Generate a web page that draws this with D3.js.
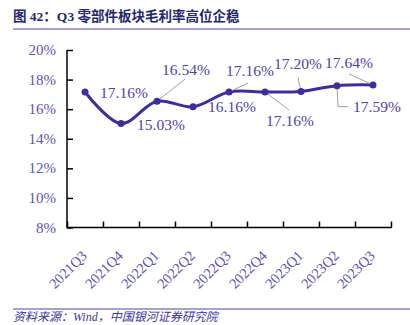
<!DOCTYPE html>
<html><head><meta charset="utf-8">
<script src="https://cdn.jsdelivr.net/npm/d3@7"></script>
<style>
html,body{margin:0;padding:0;background:#fff;}
svg{display:block;}
</style></head>
<body>
<svg id="c" width="410" height="325"></svg>
<script>
const categories = ["2021Q3","2021Q4","2022Q1","2022Q2","2022Q3","2022Q4","2023Q1","2023Q2","2023Q3"];
const margins = [17.16, 15.03, 16.54, 16.16, 17.16, 17.16, 17.20, 17.59, 17.64];
const yTicks = [8, 10, 12, 14, 16, 18, 20];
const titleText = "图 42：Q3 零部件板块毛利率高位企稳";
const sourceText = "资料来源：Wind，中国银河证券研究院";

// label layout: text offset [dx, dy] from point, leader polyline (relative) or null
const labelLayout = [
  {t:[15,6], l:null},
  {t:[16,6], l:null},
  {t:[5,-26], l:[[0,0],[28,-22]]},
  {t:[15,5], l:null},
  {t:[-3,-16], l:[[0,0],[19,-9]]},
  {t:[1,34], l:[[0,0],[24,18]]},
  {t:[-27,-22], l:[[0,0],[-3,-14]]},
  {t:[16,26], l:[[0,0],[1,21],[11,21]]},
  {t:[-48,-17], l:[[0,0],[-24,-11]]}
];

const svg = d3.select("#c");
const serif = "'Liberation Serif','Times New Roman','Noto Sans CJK SC',serif";
const textColor = "#4b44a8";

// title
svg.append("text").attr("x",13).attr("y",21)
  .attr("font-family",serif).attr("font-weight","bold").attr("font-size",13.5)
  .attr("fill","#1d2a6c").text(titleText);
svg.append("line").attr("x1",13).attr("x2",410).attr("y1",29).attr("y2",29)
  .attr("stroke","#8a80c6").attr("stroke-width",1.5);

// source
svg.append("line").attr("x1",13).attr("x2",410).attr("y1",309).attr("y2",309)
  .attr("stroke","#8a80c6").attr("stroke-width",1.5);
svg.append("text").attr("x",13).attr("y",321)
  .attr("font-family",serif).attr("font-style","italic").attr("font-size",12)
  .attr("fill","#3a35a0").text(sourceText);

const x = d3.scaleBand().domain(categories).range([67,391]).padding(0);
const y = d3.scaleLinear().domain([8,20]).range([227.5,50]);

// y axis
const yAxis = svg.append("g").attr("transform","translate(67,0)")
  .call(d3.axisRight(y).tickValues(yTicks).tickSize(6).tickFormat(""));
yAxis.select(".domain").remove();
yAxis.selectAll(".tick line").attr("stroke","#000").attr("stroke-width",1.5);
svg.append("line").attr("x1",67).attr("x2",67).attr("y1",y(20)).attr("y2",y(8))
  .attr("stroke","#000").attr("stroke-width",1.5);
svg.selectAll(".ylab").data(yTicks).join("text").attr("class","ylab")
  .attr("x",56).attr("y",d=>y(d)+5).attr("text-anchor","end")
  .attr("font-family",serif).attr("font-size",15).attr("fill","#5b53b6")
  .text(d=>d+"%");

// x axis
const xAxis = svg.append("g").attr("transform",`translate(0,${y(8)})`)
  .call(d3.axisTop(d3.scaleLinear().domain([0,9]).range([67,391])).ticks(9).tickSize(6).tickFormat(""));
xAxis.select(".domain").remove();
xAxis.selectAll(".tick line").attr("stroke","#000").attr("stroke-width",1.5);
svg.append("line").attr("x1",66.3).attr("x2",391.7).attr("y1",y(8)).attr("y2",y(8))
  .attr("stroke","#000").attr("stroke-width",1.5);
svg.selectAll(".xlab").data(categories).join("text").attr("class","xlab")
  .attr("transform",d=>`translate(${x(d)+x.bandwidth()/2+3},${y(8)+29}) rotate(-45)`)
  .attr("text-anchor","end")
  .attr("font-family",serif).attr("font-size",14.5).attr("fill","#5b53b6")
  .text(d=>d);

// line
const pts = categories.map((c,i)=>[x(c)+x.bandwidth()/2, y(margins[i])]);
svg.append("path").attr("d", d3.line().curve(d3.curveCatmullRom.alpha(0.5))(pts))
  .attr("fill","none").attr("stroke","#3b2f9f").attr("stroke-width",3);

// leaders
labelLayout.forEach((L,i)=>{
  if(!L.l) return;
  const [px,py] = pts[i];
  svg.append("polyline").attr("points", L.l.map(p=>[px+p[0],py+p[1]].join(",")).join(" "))
    .attr("fill","none").attr("stroke","#a0a0a0").attr("stroke-width",1);
});

svg.selectAll(".pt").data(pts).join("circle").attr("class","pt")
  .attr("cx",d=>d[0]).attr("cy",d=>d[1]).attr("r",3.5).attr("fill","#3b2f9f");

// data labels
svg.selectAll(".dl").data(margins).join("text").attr("class","dl")
  .attr("x",(d,i)=>pts[i][0]+labelLayout[i].t[0])
  .attr("y",(d,i)=>pts[i][1]+labelLayout[i].t[1])
  .attr("font-family",serif).attr("font-size",15.5).attr("fill",textColor)
  .text(d=>d.toFixed(2)+"%");
</script>
</body></html>
